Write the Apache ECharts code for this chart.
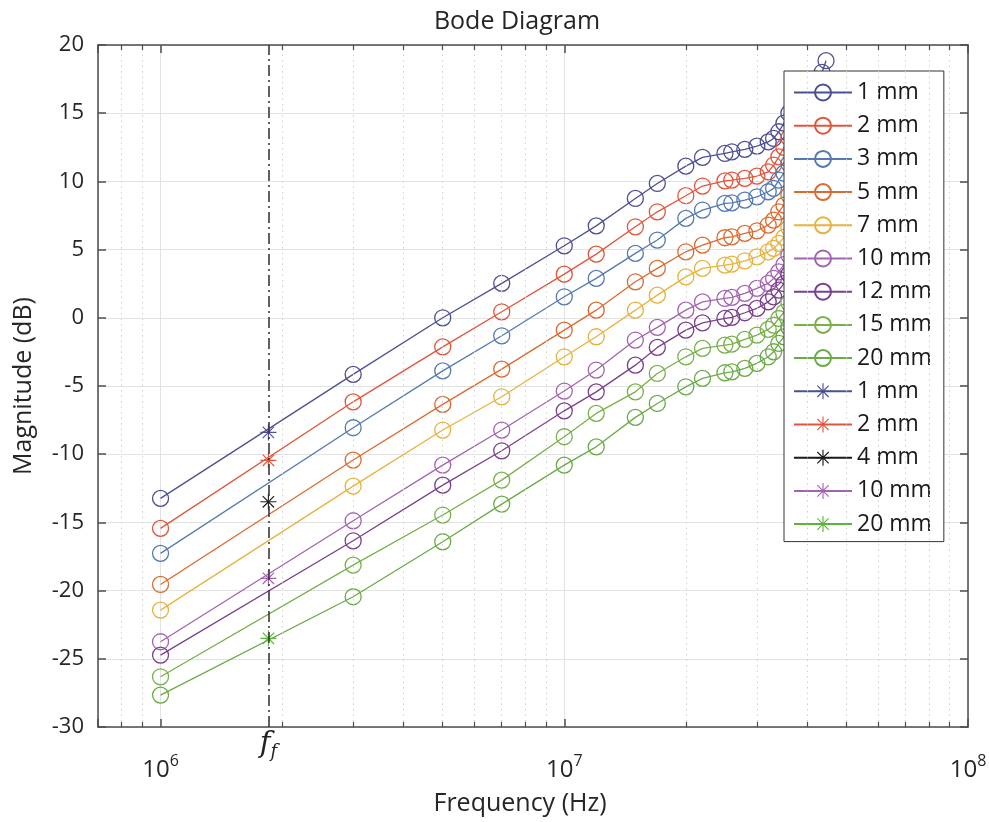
<!DOCTYPE html>
<html><head><meta charset="utf-8">
<script src="https://cdn.jsdelivr.net/npm/echarts@6/dist/echarts.min.js"></script>
<style>html,body{margin:0;padding:0;background:#fff}#c{width:989px;height:822px}</style>
</head><body><div id="c"></div>
<script>
// ---- data ----
const freqs = [1e6, 3e6, 5e6, 7e6, 1e7, 1.2e7, 1.5e7, 1.7e7, 2e7, 2.2e7, 2.5e7, 2.6e7, 2.8e7, 3e7, 3.2e7, 3.3e7, 3.4e7, 3.5e7, 3.6e7, 3.7e7, 3.8e7, 4e7, 4.2e7, 4.35e7, 4.45e7];
const mm1  = [-13.24, -4.15, 0.0, 2.52, 5.28, 6.74, 8.75, 9.85, 11.12, 11.76, 12.05, 12.17, 12.35, 12.59, 12.9, 13.15, 13.64, 14.27, 15.0, 15.6, 16.1, 16.9, 17.5, 18.0, 18.85];
const mm2  = [-15.44, -6.16, -2.13, 0.44, 3.2, 4.67, 6.67, 7.77, 8.95, 9.66, 10.04, 10.1, 10.22, 10.39, 10.7, 11.2, 11.8, 12.5, 13.2, 13.8, 14.3, 15.1, 15.7, 16.2, 17.0];
const mm3  = [-17.27, -8.06, -3.89, -1.32, 1.54, 2.89, 4.72, 5.7, 7.29, 7.9, 8.39, 8.43, 8.63, 8.87, 9.24, 9.49, 10.1, 10.6, 11.3, 11.9, 12.4, 13.2, 13.8, 14.3, 15.1];
const mm5  = [-19.55, -10.43, -6.35, -3.76, -0.9, 0.56, 2.64, 3.62, 4.84, 5.33, 5.87, 5.94, 6.19, 6.38, 6.8, 7.16, 7.77, 8.26, 9.0, 9.6, 10.1, 10.9, 11.5, 12.0, 12.8];
const mm7  = [-21.43, -12.34, -8.23, -5.79, -2.86, -1.39, 0.56, 1.66, 3.0, 3.62, 3.86, 3.94, 4.18, 4.47, 4.84, 5.09, 5.45, 5.9, 6.6, 7.2, 7.7, 8.5, 9.1, 9.6, 10.4];
const mm10 = [-23.75, -14.88, -10.8, -8.23, -5.37, -3.83, -1.63, -0.7, 0.56, 1.17, 1.42, 1.5, 1.79, 2.16, 2.52, 2.89, 3.37, 3.9, 4.6, 5.2, 5.7, 6.5, 7.1, 7.6, 8.4];
const mm12 = [-24.73, -16.35, -12.27, -9.75, -6.82, -5.43, -3.47, -2.17, -0.9, -0.37, -0.04, 0.03, 0.37, 0.69, 1.17, 1.54, 2.03, 2.5, 3.2, 3.8, 4.3, 5.1, 5.7, 6.2, 7.0];
const mm15 = [-26.32, -18.13, -14.46, -11.9, -8.72, -7.01, -5.43, -4.08, -2.86, -2.24, -2.0, -1.93, -1.58, -1.27, -0.85, -0.54, -0.05, 0.4, 1.1, 1.7, 2.2, 3.0, 3.6, 4.1, 4.9];
const mm20 = [-27.66, -20.45, -16.42, -13.66, -10.8, -9.46, -7.3, -6.28, -5.06, -4.44, -4.03, -3.96, -3.71, -3.34, -2.86, -2.49, -1.88, -1.4, -0.7, -0.1, 0.4, 1.2, 1.8, 2.3, 3.1];
const circleNames = ['1 mm', '2 mm', '3 mm', '5 mm', '7 mm', '10 mm', '12 mm', '15 mm', '20 mm'];
const circleValues = [mm1, mm2, mm3, mm5, mm7, mm10, mm12, mm15, mm20];
const circleColors = ['#4d4f94', '#e0553b', '#5479b3', '#dc6a2e', '#e8b23c', '#a463b2', '#7b3f8f', '#79b04a', '#6aab45'];

const fF = 1.85e6;                     // f_f marker frequency
const starNames = ['1 mm', '2 mm', '4 mm', '10 mm', '20 mm'];
const starValues = [-8.4, -10.45, -13.49, -19.1, -23.5];
const starColors = ['#4d4f94', '#e0553b', '#1a1a1a', '#a463b2', '#5cb33a'];

const xMin = 7e5, xMax = 1e8;
const yMin = -30, yMax = 20, yStep = 5;
// minor log ticks (2..9 x decade)
const minorX = [];
for (let d = 5; d <= 7; d++) for (let k = 2; k <= 9; k++) { const v = k * Math.pow(10, d); if (v > xMin && v < xMax) minorX.push(v); }

// ---- chart ----
const asterisk = 'path://M9.3 0L10.7 0L10.7 20L9.3 20Z M0 9.3L20 9.3L20 10.7L0 10.7Z M3.4 2.4L17.6 16.6L16.6 17.6L2.4 3.4Z M17.6 3.4L3.4 17.6L2.4 16.6L16.6 2.4Z';
const FONT = '"Open Sans", "Noto Sans", sans-serif';
const textColor = '#262626';

const series = [];
const minorGrid = minorX.map(v => ({ xAxis: v, lineStyle: { color: '#cfcfcf', type: [1.5, 4], width: 1 } }));
const minorTicks = [];
minorX.forEach(v => {
  minorTicks.push([{ coord: [v, yMin] }, { coord: [v, yMin + 0.37], lineStyle: { color: '#4d4d4d', width: 1.2, type: 'solid' } }]);
  minorTicks.push([{ coord: [v, yMax] }, { coord: [v, yMax - 0.37], lineStyle: { color: '#4d4d4d', width: 1.2, type: 'solid' } }]);
});
series.push({
  type: 'line', name: '_deco', data: [], z: 1, silent: true,
  markLine: {
    silent: true, symbol: ['none', 'none'], animation: false,
    label: { show: false },
    data: minorGrid.concat(minorTicks).concat([{
      xAxis: fF,
      lineStyle: { color: '#3a3a3a', width: 1.6, type: [11, 4, 2, 4] },
      label: {
        show: true, position: 'start', distance: 0,
        formatter: '{a|f}{b|f}',
        rich: {
          a: { fontFamily: '"DejaVu Serif", "Liberation Serif", serif', fontStyle: 'italic', fontSize: 29, color: '#222' },
          b: { fontFamily: '"DejaVu Serif", "Liberation Serif", serif', fontStyle: 'italic', fontSize: 18, color: '#222', padding: [16, 0, 0, 0] }
        }
      }
    }])
  }
});
circleNames.forEach((n, i) => {
  series.push({
    type: 'line', name: n, z: 3,
    data: freqs.map((f, j) => [f, circleValues[i][j]]),
    symbol: 'circle', symbolSize: 16,
    lineStyle: { color: circleColors[i], width: 1.3 },
    itemStyle: { color: 'rgba(255,255,255,0)', borderColor: circleColors[i], borderWidth: 1.3 },
    emphasis: { disabled: true }
  });
});
starNames.forEach((n, i) => {
  series.push({
    type: 'line', name: n + ' ', z: 4,
    data: [[fF, starValues[i]]],
    symbol: asterisk, symbolSize: 16,
    lineStyle: { color: starColors[i], width: 1.3 },
    itemStyle: { color: starColors[i], borderWidth: 0 },
    emphasis: { disabled: true }
  });
});

const axisLineStyle = { color: '#4d4d4d', width: 1.5 };
const xLabelFmt = v => {
  const l = Math.log10(v);
  if (Math.abs(l - Math.round(l)) < 1e-6) return '{b|10}{s|' + Math.round(l) + '}';
  return '';
};

const option = {
  animation: false,
  backgroundColor: '#fff',
  title: {
    text: 'Bode Diagram', left: 512, top: 4, textAlign: 'center',
    textStyle: { fontFamily: FONT, fontWeight: 'normal', fontSize: 25, color: textColor }
  },
  grid: { left: 98, right: 21, top: 45, bottom: 95, containLabel: false, outerBoundsMode: 'none' },
  legend: {
    orient: 'vertical', left: 784, top: 71,
    data: circleNames.concat(starNames.map(n => n + ' ')),
    itemWidth: 58, itemHeight: 20, itemGap: 10.2,
    padding: [10, 6, 6, 9],
    backgroundColor: '#fff', borderColor: '#333', borderWidth: 1,
    textStyle: { fontFamily: FONT, fontSize: 23, color: '#1a1a1a' },
    selectedMode: false
  },
  xAxis: [{
    type: 'log', logBase: 10, min: xMin, max: xMax, position: 'bottom',
    name: 'Frequency (Hz)', nameLocation: 'middle', nameGap: 64,
    nameTextStyle: { fontFamily: FONT, fontSize: 25, color: textColor, padding: [0, 26, 0, 0] },
    axisLine: { show: true, lineStyle: axisLineStyle, onZero: false },
    axisTick: { show: true, inside: true, length: 8, lineStyle: axisLineStyle },
    axisLabel: {
      formatter: xLabelFmt, margin: 26, showMinLabel: true,
      rich: {
        b: { fontFamily: FONT, fontSize: 24, color: textColor },
        s: { fontFamily: FONT, fontSize: 16, color: textColor, padding: [0, 0, 18, 0] }
      }
    },
    splitLine: { show: true, lineStyle: { color: '#e2e2e2', width: 1 } }
  }, {
    type: 'log', logBase: 10, min: xMin, max: xMax, position: 'top',
    axisLine: { show: true, lineStyle: axisLineStyle, onZero: false },
    axisTick: { show: true, inside: true, length: 8, lineStyle: axisLineStyle },
    axisLabel: { show: false }, splitLine: { show: false }
  }],
  yAxis: [{
    type: 'value', min: yMin, max: yMax, interval: yStep, position: 'left',
    name: 'Magnitude (dB)', nameLocation: 'middle', nameGap: 62, nameRotate: 90,
    nameTextStyle: { fontFamily: FONT, fontSize: 25, color: textColor },
    axisLine: { show: true, lineStyle: axisLineStyle, onZero: false },
    axisTick: { show: true, inside: true, length: 8, lineStyle: axisLineStyle },
    axisLabel: { fontFamily: FONT, fontSize: 22, color: textColor, margin: 14 },
    splitLine: { show: true, lineStyle: { color: '#e2e2e2', width: 1 } }
  }, {
    type: 'value', min: yMin, max: yMax, interval: yStep, position: 'right',
    axisLine: { show: true, lineStyle: axisLineStyle, onZero: false },
    axisTick: { show: true, inside: true, length: 8, lineStyle: axisLineStyle },
    axisLabel: { show: false }, splitLine: { show: false }
  }],
  series: series
};
const chart = echarts.init(document.getElementById('c'), null, { renderer: 'canvas' });
chart.setOption(option);
</script></body></html>
